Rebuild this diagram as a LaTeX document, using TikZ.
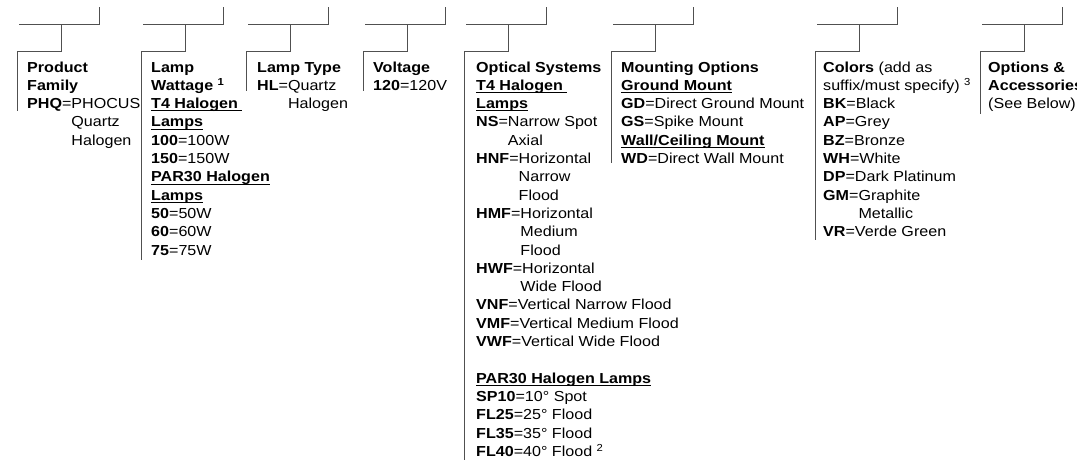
\documentclass[tikz,border=0pt]{standalone}
\usepackage{fontspec}
\setmainfont{Liberation Sans}[FakeStretch=1.11]
\definecolor{linegray}{HTML}{505050}
\newcommand\rowl[1]{\hbox{#1}}
\newcommand\undl[1]{\setbox0\hbox{#1}\rlap{\rule[-2.6pt]{\wd0}{0.8pt}}\box0}
\newcommand\ind[1]{\hphantom{\textbf{#1}=}}
\tikzset{
  bracketline/.style={draw=linegray, line width=0.9pt},
  coltext/.style={anchor=base west, inner sep=0pt, font=\fontsize{14.5}{18.3}\selectfont},
}
\begin{document}
\begin{tikzpicture}[x=1pt,y=-1pt]
\useasboundingbox[fill=white] (0,0) rectangle (1077,466);
\foreach \n/\x/\b in {pf/19/111, lw/143/260, lt/248/91, vo/365/91, os/466/460, mo/613/163, co/817/240, oa/982/114}{
  \coordinate (\n-tick) at (\x+80,7);
  \coordinate (\n-tr) at (\x+80,24);
  \coordinate (\n-tl) at (\x,24);
  \coordinate (\n-mid) at (\x+42,24);
  \coordinate (\n-knee) at (\x+42,51);
  \coordinate (\n-corner) at (\x-2,51);
  \coordinate (\n-end) at (\x-2,\b);
  \draw[bracketline] (\n-tick) -- (\n-tr) -- (\n-tl);
  \draw[bracketline] (\n-mid) -- (\n-knee) -- (\n-corner) -- (\n-end);
}
\node[coltext] (pf) at (27,72) {\vtop{%
  \rowl{\textbf{Product}}
  \rowl{\textbf{Family}}
  \rowl{\textbf{PHQ}=PHOCUS}
  \rowl{\ind{PHQ}Quartz}
  \rowl{\ind{PHQ}Halogen}}};
\node[coltext] (lw) at (151,72) {\vtop{%
  \rowl{\textbf{Lamp}}
  \rowl{\textbf{Wattage \textsuperscript{1}}}
  \rowl{\undl{\textbf{T4 Halogen\ }}}
  \rowl{\undl{\textbf{Lamps}}}
  \rowl{\textbf{100}=100W}
  \rowl{\textbf{150}=150W}
  \rowl{\undl{\textbf{PAR30 Halogen}}}
  \rowl{\undl{\textbf{Lamps}}}
  \rowl{\textbf{50}=50W}
  \rowl{\textbf{60}=60W}
  \rowl{\textbf{75}=75W}}};
\node[coltext] (lt) at (257,72) {\vtop{%
  \rowl{\textbf{Lamp Type}}
  \rowl{\textbf{HL}=Quartz}
  \rowl{\ind{HL}Halogen}}};
\node[coltext] (vo) at (373,72) {\vtop{%
  \rowl{\textbf{Voltage}}
  \rowl{\textbf{120}=120V}}};
\node[coltext] (os) at (476,72) {\vtop{%
  \rowl{\textbf{Optical Systems}}
  \rowl{\undl{\textbf{T4 Halogen\ }}}
  \rowl{\undl{\textbf{Lamps}}}
  \rowl{\textbf{NS}=Narrow Spot}
  \rowl{\ind{NS}Axial}
  \rowl{\textbf{HNF}=Horizontal}
  \rowl{\ind{HNF}Narrow}
  \rowl{\ind{HNF}Flood}
  \rowl{\textbf{HMF}=Horizontal}
  \rowl{\ind{HMF}Medium}
  \rowl{\ind{HMF}Flood}
  \rowl{\textbf{HWF}=Horizontal}
  \rowl{\ind{HMF}Wide Flood}
  \rowl{\textbf{VNF}=Vertical Narrow Flood}
  \rowl{\textbf{VMF}=Vertical Medium Flood}
  \rowl{\textbf{VWF}=Vertical Wide Flood}
  \rowl{}
  \rowl{\undl{\textbf{PAR30 Halogen Lamps}}}
  \rowl{\textbf{SP10}=10° Spot}
  \rowl{\textbf{FL25}=25° Flood}
  \rowl{\textbf{FL35}=35° Flood}
  \rowl{\textbf{FL40}=40° Flood \textsuperscript{2}}}};
\node[coltext] (mo) at (621,72) {\vtop{%
  \rowl{\textbf{Mounting Options}}
  \rowl{\undl{\textbf{Ground Mount}}}
  \rowl{\textbf{GD}=Direct Ground Mount}
  \rowl{\textbf{GS}=Spike Mount}
  \rowl{\undl{\textbf{Wall/Ceiling Mount}}}
  \rowl{\textbf{WD}=Direct Wall Mount}}};
\node[coltext] (co) at (823,72) {\vtop{%
  \rowl{\textbf{Colors} (add as}
  \rowl{suffix/must specify) \textsuperscript{3}}
  \rowl{\textbf{BK}=Black}
  \rowl{\textbf{AP}=Grey}
  \rowl{\textbf{BZ}=Bronze}
  \rowl{\textbf{WH}=White}
  \rowl{\textbf{DP}=Dark Platinum}
  \rowl{\textbf{GM}=Graphite}
  \rowl{\ind{GM}Metallic}
  \rowl{\textbf{VR}=Verde Green}}};
\node[coltext] (oa) at (988,72) {\vtop{%
  \rowl{\textbf{Options \&}}
  \rowl{\textbf{Accessories}}
  \rowl{(See Below)}}};
\end{tikzpicture}
\end{document}
